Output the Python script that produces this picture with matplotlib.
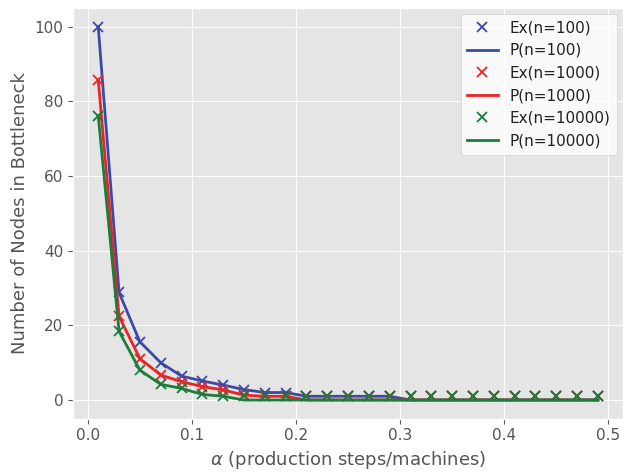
import numpy as np
import matplotlib
matplotlib.use("Agg")
import matplotlib.pyplot as plt

plt.style.use("ggplot")

# alpha values (production steps / machines)
alpha = [0.01, 0.03, 0.05, 0.07, 0.09, 0.11, 0.13, 0.15, 0.17, 0.19,
         0.21, 0.23, 0.25, 0.27, 0.29, 0.31, 0.33, 0.35, 0.37, 0.39,
         0.41, 0.43, 0.45, 0.47, 0.49]

# experimental results
ex_100 = [100, 28.8, 15.6, 10.0, 6.4, 5.1, 4.0, 2.8, 2.0, 2.0,
          1, 1, 1, 1, 1, 1, 1, 1, 1, 1, 1, 1, 1, 1, 1]
ex_1000 = [85.8, 22.4, 11.1, 6.7, 4.9, 3.6, 2.7, 1.3, 1.0, 1.0,
           1, 1, 1, 1, 1, 1, 1, 1, 1, 1, 1, 1, 1, 1, 1]
ex_10000 = [76.2, 18.4, 8.0, 4.2, 3.1, 1.5, 1.0, 1.0, 1, 1,
            1, 1, 1, 1, 1, 1, 1, 1, 1, 1, 1, 1, 1, 1, 1]

# predicted values
p_100 = [100, 28.8, 15.6, 10.0, 6.4, 5.1, 4.0, 2.8, 2.0, 2.0,
         1, 1, 1, 1, 1, 0, 0, 0, 0, 0, 0, 0, 0, 0, 0]
p_1000 = [85.8, 22.4, 11.1, 6.7, 4.9, 3.6, 2.7, 1.3, 1.0, 1.0,
          0, 0, 0, 0, 0, 0, 0, 0, 0, 0, 0, 0, 0, 0, 0]
p_10000 = [76.2, 18.4, 8.0, 4.2, 3.1, 1.5, 1.0, 0, 0, 0,
           0, 0, 0, 0, 0, 0, 0, 0, 0, 0, 0, 0, 0, 0, 0]

series = [
    ("n=100", ex_100, p_100, "#3a4aa8"),
    ("n=1000", ex_1000, p_1000, "#ee2222"),
    ("n=10000", ex_10000, p_10000, "#1b7d3a"),
]

fig, ax = plt.subplots(figsize=(6.26, 4.72), dpi=100)

for name, ex, p, c in series:
    ax.plot(alpha, ex, "x", color=c, markersize=6.5, mew=1.3, label=f"Ex({name})")
    ax.plot(alpha, p, "-", color=c, linewidth=2, label=f"P({name})")

ax.set_xlabel(r"$\alpha$ (production steps/machines)", fontsize=13, color="#555555")
ax.set_ylabel("Number of Nodes in Bottleneck", fontsize=13, color="#555555")
ax.set_xticks([0.0, 0.1, 0.2, 0.3, 0.4, 0.5])
ax.set_yticks([0, 20, 40, 60, 80, 100])
ax.tick_params(labelsize=11)
leg = ax.legend(loc="upper right", fontsize=11, facecolor="white", framealpha=0.8,
                borderaxespad=0.4)
for t in leg.get_texts():
    t.set_color("#222222")

plt.subplots_adjust(left=0.117, right=0.995, top=0.983, bottom=0.113)
plt.savefig("out.png")
